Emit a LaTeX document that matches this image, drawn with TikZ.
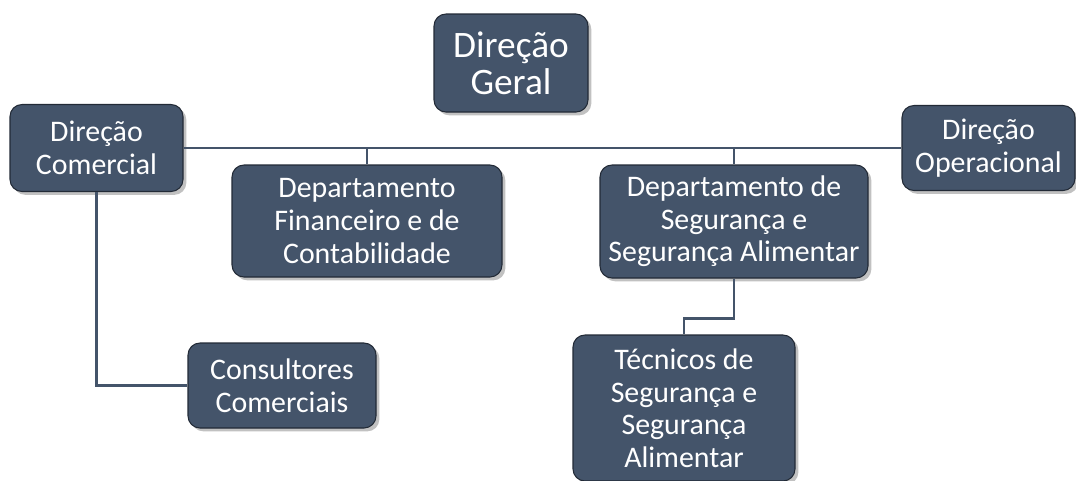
\documentclass[tikz,border=0pt]{standalone}
\usepackage{fontspec}
\setmainfont{Carlito}
\usetikzlibrary{shadows, calc}
\definecolor{boxblue}{HTML}{44546A}
\definecolor{boxedge}{HTML}{222A36}
\tikzset{
        unit/.style={draw=boxedge, line width=0.8pt, fill=boxblue, text=white, rounded corners=9pt, align=center, inner sep=0pt,
                font=\fontsize{22.4}{24.4}\selectfont,
                drop shadow={shadow xshift=2.5pt, shadow yshift=-2.5pt, opacity=.35, fill=black!70}}, % one box of the chart
        topunit/.style={unit, font=\fontsize{28}{28}\selectfont}, % the head box has bigger text
        link/.style={draw=boxblue, line width=1.6pt}, % the lines between the boxes
        }

\begin{document}
\begin{tikzpicture}[x=0.75pt, y=-0.75pt]
        % page frame, one unit is one pixel
        \useasboundingbox (0,0) rectangle (1076,480);

        \node[topunit, minimum width=115.5pt, minimum height=73.5pt] (Geral) at (511,63) {Direção\\Geral};
        \node[unit, minimum width=129.75pt, minimum height=65.25pt] (Comercial) at (96.5,148) {Direção\\Comercial};
        \node[unit, minimum width=129.75pt, minimum height=63.75pt] (Operacional) at (988.5,148) {Direção\\Operacional};
        \node[unit, minimum width=202.5pt, minimum height=84pt] (Financeiro) at (367,221) {Departamento\\Financeiro e de\\Contabilidade};
        \node[unit, minimum width=201pt, minimum height=84.75pt] (Seguranca) at (734,221.5) {Departamento de\\Segurança e\\Segurança Alimentar};
        \node[unit, minimum width=166.5pt, minimum height=109.5pt] (Tecnicos) at (684,408) {Técnicos de\\Segurança e\\Segurança\\Alimentar};
        \node[unit, minimum width=141pt, minimum height=63.75pt] (Consultores) at (282,385.5) {Consultores\\Comerciais};

        % lines
        \draw[link] (Comercial.east) -- (Operacional.west);
        \draw[link] ($(Geral.south)+(16,0)$) -- ($(Geral.south)+(16,0)$ |- Comercial.east);
        \draw[link] (Financeiro.north) -- (Financeiro.north |- Comercial.east);
        \draw[link] (Seguranca.north) -- (Seguranca.north |- Comercial.east);
        \draw[link] (Seguranca.south) -- ++(0,40) -| (Tecnicos.north);
        \draw[link] (Comercial.south) |- (Consultores.west);
\end{tikzpicture}
\end{document}
